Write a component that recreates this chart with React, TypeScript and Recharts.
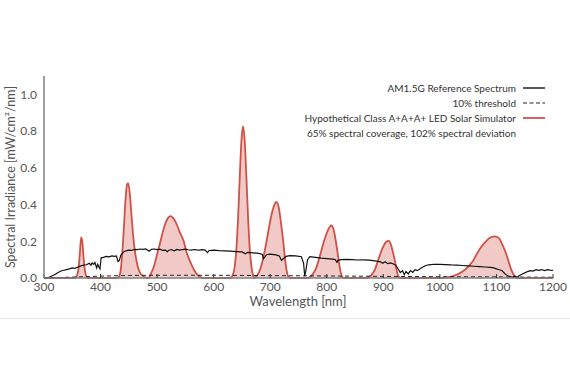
import { ComposedChart, Area, Line, XAxis, YAxis } from 'recharts'

const xTicks = [300, 400, 500, 600, 700, 800, 900, 1000, 1100, 1200]
const yTicks = [0, 0.2, 0.4, 0.6, 0.8, 1.0]

// AM1.5G reference spectrum (mW/cm²/nm)
const amWl = [
  300, 305, 310, 315, 320, 325, 330, 335, 340, 345, 350, 355, 360, 365, 370, 375, 380, 383, 385, 388,
  390, 393, 395, 397, 399, 401, 405, 410, 415, 420, 425, 428, 431, 433, 436, 440, 445, 450, 455, 460,
  465, 470, 475, 480, 486, 490, 495, 500, 505, 510, 515, 518, 520, 525, 530, 535, 540, 545, 550, 555,
  560, 565, 570, 575, 580, 585, 589, 592, 600, 610, 620, 630, 640, 650, 656, 660, 670, 680, 686, 688,
  690, 694, 700, 710, 716, 720, 723, 728, 735, 745, 755, 759, 761, 763, 766, 770, 780, 790, 800, 810,
  815, 818, 820, 825, 835, 845, 855, 865, 875, 885, 895, 899, 903, 908, 913, 918, 922, 927, 930, 934,
  937, 940, 944, 948, 952, 956, 960, 965, 970, 975, 980, 990, 1000, 1010, 1020, 1030, 1040, 1050, 1060, 1070,
  1080, 1090, 1095, 1100, 1105, 1110, 1113, 1116, 1120, 1124, 1128, 1132, 1136, 1140, 1145, 1150, 1155, 1160, 1165, 1170,
  1175, 1180, 1185, 1190, 1195, 1200,
]
const amVal = [
  0.0, 0.0, 0.005, 0.012, 0.02, 0.03, 0.038, 0.042, 0.046, 0.05, 0.055, 0.053, 0.06, 0.066, 0.07, 0.072, 0.08, 0.07, 0.082, 0.074,
  0.085, 0.055, 0.075, 0.06, 0.05, 0.11, 0.112, 0.118, 0.115, 0.12, 0.118, 0.12, 0.09, 0.095, 0.125, 0.14, 0.148, 0.152, 0.15, 0.156,
  0.155, 0.158, 0.156, 0.158, 0.146, 0.156, 0.158, 0.155, 0.157, 0.15, 0.152, 0.142, 0.15, 0.155, 0.148, 0.156, 0.152, 0.155, 0.157, 0.154,
  0.152, 0.155, 0.153, 0.152, 0.154, 0.152, 0.138, 0.15, 0.152, 0.149, 0.148, 0.146, 0.144, 0.142, 0.132, 0.14, 0.137, 0.134, 0.128, 0.105,
  0.112, 0.128, 0.13, 0.126, 0.12, 0.095, 0.105, 0.118, 0.122, 0.12, 0.116, 0.08, 0.01, 0.04, 0.1, 0.116, 0.112, 0.108, 0.106, 0.103,
  0.1, 0.085, 0.096, 0.1, 0.101, 0.1, 0.098, 0.099, 0.097, 0.093, 0.088, 0.08, 0.088, 0.078, 0.082, 0.076, 0.07, 0.045, 0.03, 0.04,
  0.018, 0.035, 0.022, 0.04, 0.03, 0.045, 0.04, 0.05, 0.06, 0.068, 0.072, 0.075, 0.074, 0.073, 0.071, 0.07, 0.068, 0.066, 0.064, 0.062,
  0.06, 0.058, 0.055, 0.05, 0.045, 0.04, 0.03, 0.02, 0.012, 0.008, 0.004, 0.01, 0.003, 0.012, 0.02, 0.028, 0.035, 0.04, 0.038, 0.045,
  0.042, 0.046, 0.04, 0.045, 0.043, 0.042,
]

// 10% threshold (dashed)
const thrWl = [300, 350, 400, 450, 500, 600, 700, 800, 900, 1000, 1100, 1200]
const thrVal = [0.0, 0.005, 0.01, 0.014, 0.015, 0.015, 0.013, 0.011, 0.009, 0.007, 0.006, 0.004]

// hypothetical LED simulator spectrum
const ledWl = [
  300, 354, 357, 359, 361, 363, 365, 366, 368, 370, 372, 374, 376, 379,
  428, 432, 435, 438, 441, 444, 447, 449, 452, 455, 458, 462, 466, 470, 475, 480,
  484, 490, 495, 500, 506, 510, 515, 520, 524, 530, 535, 540, 547, 552, 557, 562, 567, 572, 578, 585,
  628, 631, 634, 637, 640, 643, 646, 649, 652, 655, 658, 661, 664, 667, 670,
  672, 677, 682, 687, 692, 697, 702, 707, 711, 715, 719, 723, 726, 729, 732, 736,
  765, 770, 775, 780, 785, 790, 795, 800, 805, 808, 812, 816, 819, 822, 825, 828, 832,
  870, 875, 880, 885, 890, 895, 900, 905, 909, 913, 917, 920, 923, 926, 929, 932,
  1005, 1010, 1020, 1030, 1040, 1050, 1060, 1065, 1070, 1080, 1090, 1098, 1105, 1110, 1115, 1120, 1125, 1130, 1135, 1140,
  1200,
]
const ledVal = [
  0, 0, 0.005, 0.02, 0.05, 0.12, 0.2, 0.221, 0.19, 0.11, 0.05, 0.017, 0.004, 0,
  0, 0.005, 0.03, 0.12, 0.26, 0.42, 0.51, 0.515, 0.45, 0.33, 0.22, 0.12, 0.06, 0.028, 0.01, 0.002,
  0, 0.03, 0.07, 0.13, 0.2, 0.25, 0.3, 0.33, 0.337, 0.32, 0.29, 0.25, 0.2, 0.14, 0.1, 0.065, 0.035, 0.015, 0.003, 0,
  0, 0.004, 0.018, 0.058, 0.15, 0.316, 0.539, 0.742, 0.825, 0.742, 0.539, 0.316, 0.15, 0.058, 0.012,
  0, 0.015, 0.045, 0.1, 0.175, 0.26, 0.34, 0.395, 0.414, 0.385, 0.3, 0.2, 0.11, 0.04, 0.008, 0,
  0, 0.006, 0.02, 0.045, 0.09, 0.145, 0.2, 0.245, 0.278, 0.286, 0.265, 0.2, 0.14, 0.075, 0.025, 0.004, 0,
  0, 0.006, 0.02, 0.045, 0.09, 0.135, 0.172, 0.196, 0.203, 0.185, 0.14, 0.1, 0.05, 0.015, 0.002, 0,
  0, 0.003, 0.008, 0.018, 0.035, 0.062, 0.1, 0.13, 0.155, 0.195, 0.222, 0.227, 0.215, 0.185, 0.15, 0.105, 0.055, 0.02, 0.004, 0,
  0,
]

const amData = amWl.map((wl, i) => ({ wl, v: amVal[i] }))
const thrData = thrWl.map((wl, i) => ({ wl, v: thrVal[i] }))
const ledData = ledWl.map((wl, i) => ({ wl, v: ledVal[i] }))

const font = 'Lato, "Noto Sans", sans-serif'
const frame = '#7f7f7f'
const red = '#cf5148'

const legendRows = [
  { text: 'AM1.5G Reference Spectrum', y: 88 },
  { text: '10% threshold', y: 103 },
  { text: 'Hypothetical Class A+A+A+ LED Solar Simulator', y: 118 },
  { text: '65% spectral coverage, 102% spectral deviation', y: 133 },
]

export default function App() {
  return (
    <div style={{ position: 'absolute', left: 0, top: 0, width: 570, height: 383, background: '#fff', fontFamily: font }}>
      <ComposedChart width={570} height={383} margin={{ top: 76, right: 17, left: 0, bottom: 75 }}>
        <XAxis
          dataKey="wl"
          type="number"
          domain={[300, 1200]}
          ticks={xTicks}
          allowDataOverflow
          height={30}
          tickSize={-4}
          tickMargin={8}
          stroke={frame}
          axisLine={{ stroke: frame, strokeWidth: 1.5 }}
          tickLine={{ stroke: '#333' }}
          tick={{ fill: '#555', fontSize: 12, fontFamily: font }}
        />
        <XAxis
          xAxisId="top"
          orientation="top"
          type="number"
          domain={[300, 1200]}
          ticks={xTicks}
          height={0}
          tickSize={-4}
          tick={false}
          axisLine={{ stroke: frame, strokeWidth: 1.5 }}
          tickLine={{ stroke: '#333' }}
        />
        <YAxis
          type="number"
          domain={[0, 1.1]}
          ticks={yTicks}
          width={44}
          tickLine={false}
          tickSize={0}
          tickMargin={7}
          axisLine={{ stroke: frame, strokeWidth: 1.5 }}
          tickFormatter={(v) => v.toFixed(1)}
          tick={{ fill: '#555', fontSize: 12, fontFamily: font }}
        />
        <YAxis
          yAxisId="right"
          orientation="right"
          type="number"
          domain={[0, 1.1]}
          ticks={yTicks}
          width={0}
          tickSize={-4}
          tick={false}
          axisLine={{ stroke: frame, strokeWidth: 1.5 }}
          tickLine={{ stroke: '#333' }}
        />
        <Area
          data={ledData}
          dataKey="v"
          type="monotone"
          stroke={red}
          strokeWidth={1.8}
          fill={red}
          fillOpacity={0.3}
          isAnimationActive={false}
        />
        <Line data={thrData} dataKey="v" type="linear" stroke="#222" strokeWidth={1} strokeDasharray="4 3" dot={false} isAnimationActive={false} />
        <Line data={amData} dataKey="v" type="linear" stroke="#111" strokeWidth={1.2} dot={false} isAnimationActive={false} />
      </ComposedChart>

      {legendRows.map((r) => (
        <div
          key={r.text}
          style={{ position: 'absolute', right: 54, top: r.y - 8, height: 16, lineHeight: '16px', fontSize: 10, color: '#333', whiteSpace: 'nowrap' }}
        >
          {r.text}
        </div>
      ))}
      <svg style={{ position: 'absolute', left: 0, top: 0 }} width={570} height={383} pointerEvents="none">
        <line x1={523} x2={545} y1={88} y2={88} stroke="#222" strokeWidth={1.5} />
        <line x1={523} x2={545} y1={103} y2={103} stroke="#222" strokeWidth={1.2} strokeDasharray="4 2.5" />
        <line x1={523} x2={545} y1={118} y2={118} stroke={red} strokeWidth={1.8} />
      </svg>

      <div
        style={{ position: 'absolute', left: 10, top: 177, transform: 'translate(-50%, -50%) rotate(-90deg)', fontSize: 12.5, color: '#555', whiteSpace: 'nowrap' }}
      >
        Spectral Irradiance [mW/cm²/nm]
      </div>
      <div style={{ position: 'absolute', left: 298, top: 301, transform: 'translate(-50%, -50%)', fontSize: 13, color: '#555', whiteSpace: 'nowrap' }}>
        Wavelength [nm]
      </div>
      <div style={{ position: 'absolute', left: 0, top: 318, width: 570, height: 1, background: '#e8e8e8' }} />
    </div>
  )
}
